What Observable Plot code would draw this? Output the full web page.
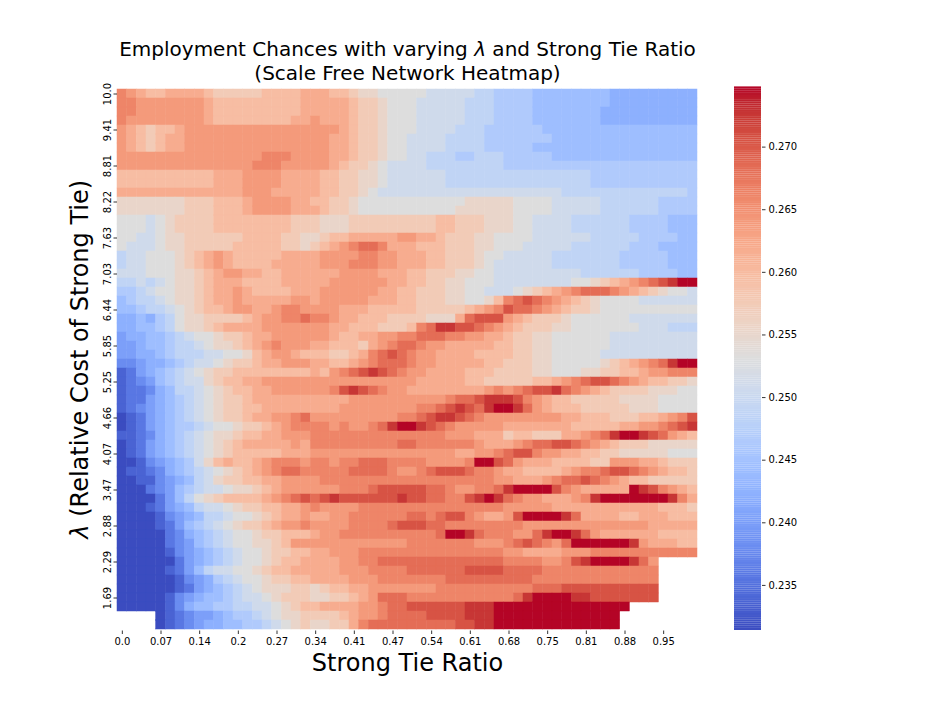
<!DOCTYPE html>
<html><head><meta charset="utf-8">
<script src="https://cdn.jsdelivr.net/npm/d3@7"></script>
<script src="https://cdn.jsdelivr.net/npm/@observablehq/plot@0.6"></script>
<style>
body{margin:0;background:#fff;}
#chart{position:relative;width:936px;height:720px;background:#fff;font-family:"DejaVu Sans",sans-serif;}
#chart svg{position:absolute;top:0;}
</style></head><body><div id="chart"></div>
<script>
// ---- data ----
const xTickLabels = ["0.0","0.07","0.14","0.2","0.27","0.34","0.41","0.47","0.54","0.61","0.68","0.75","0.81","0.88","0.95"];
const yTickLabels = ["10.0","9.41","8.81","8.22","7.63","7.03","6.44","5.85","5.25","4.66","4.07","3.47","2.88","2.29","1.69"];
const colorbarTicks = [0.235,0.240,0.245,0.250,0.255,0.260,0.265,0.270];
const vmin = 0.2314, vmax = 0.2748;
// each cell is one character; the character is an index into levelValues ("." = no data)
const levelCodes = "0123456789ABCDEFGHIJK";
const levelValues = [0.2314,0.2336,0.2357,0.2379,0.2401,0.2423,0.2444,0.2466,0.2488,0.2509,0.2531,
                     0.2553,0.2574,0.2596,0.2618,0.2640,0.2661,0.2683,0.2705,0.2726,0.2748];
// rows from λ = 10.0 (top) downwards, 60 columns of strong tie ratio each
const rows = [
"GFEDDEEEEDCCCCCDDDDE"+"EEDDCBBAAAAA99999887"+"77766666666555555555",
"GGFFFFFFFEDDDDDDDDDE"+"EEEEDCCBAAA999998887"+"77766666666555555555",
"GGFFFFFFFEDDDDDDDDDE"+"EEEEDCCBAAA999998887"+"77766666665555555555",
"GFFFFFFFFEDDDDDDDDEE"+"FEEEDCCBAAA999998887"+"77766666665555555555",
"FEDCDDEFFFFFFFFFFFFF"+"FFFEDCCBAAA999988877"+"77776666666666666666",
"FEDCDEEFFFFFFFFFFFFF"+"FFEEDCCBAA9999888877"+"77777666666666666666",
"FEDCDEEFFFFFFFFFFFFF"+"FFEEDCCBAA9999888877"+"77766666666666666666",
"FFFFFFFFFFFFFFFGGGFF"+"FFEEDCCBAA9988877888"+"77777666666666666666",
"FFFFFFFFFFFFFFGGGFFF"+"FFEDCCBA999988888888"+"77777777777777777777",
"DDDDDDDDDDEEEFFFFEEE"+"EDDCCBBA999999888888"+"88888888877777777777",
"DDDDDDDDDDEEEFFFFEEE"+"EDDCCBBA999999888888"+"88888888877777777777",
"EEEEEEEEEEEEEFFFEEEE"+"EDDCCBA9999999999999"+"99999988888888888887",
"BBBBBBBCCCDDDEFFFFEE"+"DDCCBAAAAAAAAAAABBBB"+"BAAAA999998888887777",
"BBBBBBBCCCDDDEFFFFEE"+"EDCCBAAAAAAAAAABBBBB"+"BAAAA999998888887777",
"AAA9ABCCCCDDDDDDDDCC"+"CBBBCCCCCCCCCDDCCCBB"+"BAA99998888887777666",
"AAA9ABCCCCDDDDDDDDCC"+"CBBBCCCCCCCCCDDCCCBB"+"BAA99998888887777666",
"AA99ABBCCCCCCDDDDCCB"+"BCDDEEEEEFFEEDCCCBBA"+"AAA99999988888777766",
"A999ABBCCCCCDDDDDCCB"+"CDEFGHHGEEEDDDCCCBBA"+"AA999998888887776666",
"899AAABCDEFEDDDDDEEE"+"EFFFFGGFFEEEDDCCCBAA"+"99999888888877777666",
"899AAABCDEFEDDDDEEEE"+"EFFFGGGFFEEEDDCCCBA9"+"99999888888877777666",
"999AAABBCDEFFEEDDEEE"+"EEEFFFFEEEDDCCCBBAA9"+"99999999888888777766",
"88989ABBCDEEEDDDDEEE"+"EEFFFFFFEEDDCCBBAAA9"+"9999999AABCDEFGHIJKK",
"7789AABBCDEEFEDDDDEE"+"EFFFFFFEEDDCCCBBAA99"+"9ABCDEFGHHHGFEDCBAA9",
"67889ABBCDEEFEEEEEFF"+"EFFFFFEEEDDCCCBBAABD"+"GHIHGFEDCBAAAA999999",
"667889ABCDDEFFEEFGGF"+"FFFEEEDDDDDCCCCCDEFG"+"IHHGFEDCCBAAAAAAAAAA",
"556578ABBCCCCDEFFGGH"+"GGFEEDDDCCCCBBBEHIII"+"FEDCCCBAAAAAA9999999",
"556678ABBCDEEEEFFFFF"+"FFEEDDDCCCDGHJJIIHGF"+"EDCCCBBAAAAAAA999888",
"45566789AABCCDEEFFFF"+"FFEDDEEFFGGHHHGGFFEE"+"DCCBBAAAAAA999999999",
"445667889ABBCDEFGFFF"+"EEDDDCEFGHHGFFEEEEED"+"DCCBBAAAAAA999999999",
"44556788899AABDEFFED"+"DDCCDEGHIHGFFEEEEDDD"+"DCCBBAAAAA9999999999",
"3345567899ABCCDEEFFF"+"EEDDEFGHHHGFFEEEEEDD"+"CCCBBAAAAABCDEFGHJKK",
"12456789ABCCDDDDDDDD"+"EDFGHIJIHGFFEEEEDDDC"+"CCCBBAAABBCCDDEFFGGG",
"123467899BCDDEEFFFFF"+"FFFFFFFFFFFEEEEEDDCC"+"CCCDDEFGHIIHGFEDDCCB",
"122356889ABCDDEEFFFF"+"FFGIJIHGFFEEEEEEEEFG"+"FGHIIJHGFEDCCCCBBBAA",
"122456789ABCCDEEEEEE"+"EEEEFFFFFFFFFFGHHIJJ"+"JIGFEDDCCCCCBBBBAAAA",
"123456789ABCCDDEEEEE"+"EEEFFFFFFFFGGHIJIHJK"+"KJHFEDDDCCCCCBBBAAAA",
"012456789ABCCDEEFFGH"+"FFFFFFFFFGGHIJJIHGFF"+"FFFFFFEEDDDCCCDDEFGI",
"0124567789AABCCDEFGG"+"GGFGFFGHJKKJIHGFFFFF"+"EEEEEEEDDDDDEEFFGHIJ",
"112356789ABBCDDEEFFF"+"GGGGGGGGGGGGGGFFFEEE"+"CDDCCCEEFGHJKKJIHFED",
"012456789ABCDEEEEEFE"+"GGGGGGGGGHHGGGGGGFEE"+"EFGHHIIHGFEDCCCBBBBB",
"012456789ABCDDDDDEEE"+"FFFFFFFFFFFFFFFEEFFG"+"HIIGFFEEDDCCBBBBBAAA",
"001345679BDEDDEFGGGF"+"GGFGGHHHGGGGFFFFGKKI"+"HFEEEDDDDCCFFFEEDCCC",
"0112356789ABCDEFGHHG"+"GGGGHHHHGFFGHIIIHGGF"+"EEDDDDEFGGHIIHGFEDDC",
"0011345689BCCDDEEFFF"+"FGGGGGGGGGGGGGGGGGGF"+"FEEEFGHHIHGFEDDCCCCC",
"00023467899ABBCDEFFF"+"FFFGGGHIIIIIHHGFFGGH"+"JKKKKIGFEEEEEKJIGFED",
"00002468ABCDDDDEFGHI"+"HIJIIIIIIJIIHHGGIJKJ"+"HGFFEEEFGJKKKKKKKJGE",
"00012456899ABCCDDEEF"+"GFFFFGGGGGGGGGGGGGGG"+"FFFFFEEEEEEEEEEEDDDC",
"000013456889AABCDEEF"+"EEFFGGGGGGHHGHIIGFEE"+"FIKKKKJHEEEEDDEEEDDD",
"00001246789ABCCDEFFG"+"FFFFGGGGHIIIHHGGGGGG"+"GGFFFFFFFFFFFFFEEEEE",
"000002356789AABCCDDD"+"EFFGGGGGGGGGGHKKJHGG"+"GFFHJKKJHFEEEEEEDDDD",
"000002346789AABBCDFF"+"FFFFFFFFFFGGGGGGGFFF"+"GHIHGFHKKKKKKJFEEEDD",
"0000013456789AABCCDD"+"EEFFFGGGGGGGGGGGGGGG"+"FFEEEEFFFGGGGGGGGGGG",
"0000002456789AABCDDE"+"EEEFFGGHHHHHHHHHHHHH"+"GGGGFFGIJKKKKJHF....",
"000001246899AABCDDEE"+"EEEFFFGGGGHHHHHHIIII"+"HHHHGGGGGGGGGGGG....",
"0000001345789AABCCDD"+"EEEEFFFGGGGGGGHHHHHH"+"HHHGGGGGGGGGGGGG....",
"00000012456789ABBBCC"+"BCDDEEFFFFFFFGGGGGGG"+"GGGHHHIIIIIIIIII....",
"000001345667899ABCCC"+"BBCCDEFHHHGGGGGGGGGG"+"GHJKKKKJJIIIIIII....",
"0000013566778899ABCD"+"DEEEEFFGHHIIIIIIJJJK"+"KKKKKKKKKKKKK.......",
"....012344567789ABBC"+"CCCDEFFGHHHHIIIIJJJK"+"KKKKKKKKKKKK........",
"....0123455667789ABC"+"BBCCEGHHHHHHHHHIIJJK"+"KKKKKKKKKKKK........"
];
const titleLines = ["Employment Chances with varying λ and Strong Tie Ratio", "(Scale Free Network Heatmap)"];
const xLabel = "Strong Tie Ratio";
const yLabel = "λ (Relative Cost of Strong Tie)";

// matplotlib "coolwarm" colour map
const coolwarm = [
[0.2298,0.2987,0.7537],[0.2662,0.3531,0.8015],[0.3039,0.4065,0.8450],[0.3428,0.4588,0.8837],
[0.3830,0.5094,0.9174],[0.4244,0.5581,0.9456],[0.4667,0.6046,0.9682],[0.5096,0.6483,0.9848],
[0.5530,0.6889,0.9954],[0.5963,0.7261,0.9998],[0.6392,0.7596,0.9982],[0.6813,0.7890,0.9904],
[0.7222,0.8140,0.9766],[0.7615,0.8343,0.9569],[0.7987,0.8498,0.9317],[0.8335,0.8602,0.9011],
[0.8654,0.8654,0.8654],[0.8978,0.8489,0.8209],[0.9241,0.8274,0.7745],[0.9445,0.8009,0.7267],
[0.9589,0.7698,0.6780],[0.9673,0.7341,0.6288],[0.9700,0.6943,0.5794],[0.9668,0.6504,0.5303],
[0.9580,0.6028,0.4818],[0.9437,0.5518,0.4342],[0.9239,0.4973,0.3880],[0.8990,0.4396,0.3432],
[0.8692,0.3783,0.3003],[0.8346,0.3129,0.2593],[0.7956,0.2413,0.2205],[0.7525,0.1572,0.1841],
[0.7057,0.0156,0.1502]];
const cmap = d3.piecewise(d3.interpolateRgb, coolwarm.map(c => d3.rgb(c[0]*255, c[1]*255, c[2]*255).toString()));
const interp = t => cmap(Math.max(0, Math.min(1, t)));

const nCols = 60, nRows = rows.length;
const cells = [];
rows.forEach((s, r) => {
  for (let c = 0; c < nCols; c++) {
    const k = levelCodes.indexOf(s[c]);
    if (k >= 0) cells.push({col: c, row: r, value: levelValues[k]});
  }
});
const xTicks = xTickLabels.map((_, i) => i * 4);
const yTicks = yTickLabels.map((_, i) => i * 4);
const colorOpts = {type: "linear", domain: [vmin, vmax], interpolate: interp, clamp: true};
const font = "DejaVu Sans";

const main = Plot.plot({
  width: 936, height: 720,
  marginLeft: 117, marginRight: 239, marginTop: 87, marginBottom: 89.5,
  style: {fontFamily: font, fontSize: "10px", color: "black", background: "transparent", overflow: "visible"},
  x: {type: "band", domain: d3.range(nCols), padding: 0, axis: null},
  y: {type: "band", domain: d3.range(nRows), padding: 0, axis: null},
  color: colorOpts,
  marks: [
    Plot.cell(cells, {x: "col", y: "row", fill: "value", stroke: "value", strokeWidth: 0.5, inset: 0}),
    Plot.axisX({ticks: xTicks, tickFormat: i => xTickLabels[i / 4], tickSize: 3.5, tickPadding: 3.5,
                fontSize: 10, label: null, stroke: "black", strokeWidth: 0.8}),
    Plot.axisY({ticks: yTicks, tickFormat: i => yTickLabels[i / 4], tickSize: 3.5, tickPadding: 3.5,
                tickRotate: -90, fontSize: 10, label: null, stroke: "black", strokeWidth: 0.8}),
    Plot.text([xLabel], {text: d => d, frameAnchor: "bottom", dy: 32, textAnchor: "middle", lineAnchor: "middle",
                         fontSize: 24, fill: "black"}),
    Plot.text([yLabel], {text: d => d, frameAnchor: "left", dx: -37, rotate: -90, textAnchor: "middle",
                         lineAnchor: "middle", fontSize: 24, fill: "black"}),
    Plot.text([titleLines[0]], {text: d => d, frameAnchor: "top", dy: -38, textAnchor: "middle",
                                lineAnchor: "middle", fontSize: 20, fill: "black"}),
    Plot.text([titleLines[1]], {text: d => d, frameAnchor: "top", dy: -14, textAnchor: "middle",
                                lineAnchor: "middle", fontSize: 20, fill: "black"})
  ]
});

const cbN = 256, cbStep = (vmax - vmin) / cbN;
const cbSteps = d3.range(cbN).map(i => vmin + i * cbStep);
const bar = Plot.plot({
  width: 100, height: 720,
  marginLeft: 0, marginRight: 73, marginTop: 86.5, marginBottom: 90,
  style: {fontFamily: font, fontSize: "10px", color: "black", background: "transparent", overflow: "visible"},
  x: {domain: [0, 1], axis: null},
  y: {domain: [vmin, vmax], axis: null},
  color: colorOpts,
  marks: [
    Plot.rect(cbSteps, {x1: 0, x2: 1, y1: d => d, y2: d => d + cbStep * 1.05, fill: d => d + cbStep / 2}),
    Plot.axisY({anchor: "right", ticks: colorbarTicks, tickFormat: d3.format(".3f"), tickSize: 3.5,
                tickPadding: 3.5, fontSize: 10, label: null, stroke: "black", strokeWidth: 0.8})
  ]
});
bar.style.left = "734px";
main.style.left = "0px";

// mathtext-like italic lambda
for (const t of main.querySelectorAll("text")) {
  if (t.children.length === 0 && t.textContent.includes("λ")) {
    const parts = t.textContent.split("λ");
    t.textContent = "";
    parts.forEach((p, i) => {
      if (i > 0) {
        const ts = document.createElementNS("http://www.w3.org/2000/svg", "tspan");
        ts.setAttribute("font-style", "italic");
        ts.textContent = "λ";
        t.appendChild(ts);
      }
      if (p) t.appendChild(document.createTextNode(p));
    });
  }
}
const chart = document.getElementById("chart");
chart.appendChild(main);
chart.appendChild(bar);
</script></body></html>
